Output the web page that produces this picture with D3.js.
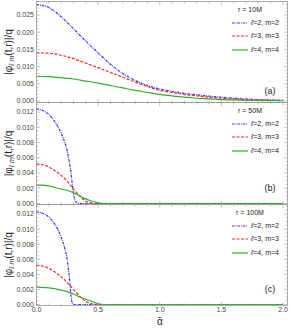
<!DOCTYPE html>
<html>
<head>
<meta charset="utf-8"/>
<script src="https://d3js.org/d3.v7.min.js"></script>
<style>
    body { margin: 0; background: #ffffff; }
    svg { display: block; font-family: "Liberation Sans", Arial, sans-serif; }
    .tick text { fill: #444444; font-size: 7px; }
</style>
</head>
<body>
<svg id="chart" width="291" height="329"></svg>
<script>

// panel (a), r = 10M
var alphaA = [0,0.1,0.2,0.3,0.4,0.5,0.6,0.7,0.8,0.9,1.0,1.1,1.2,1.3,1.4,1.5,1.6,1.7,1.8,1.9,2.0];
var blueA  = [0.0280,0.0272,0.0245,0.0210,0.0174,0.0140,0.0107,0.0080,0.0060,0.0045,0.0035,0.0028,0.0022,0.0018,0.0014,0.0011,0.0008,0.0006,0.0004,0.0003,0.0002];
var redA   = [0.0140,0.0139,0.0133,0.0123,0.0110,0.0097,0.0083,0.0069,0.0055,0.0042,0.0031,0.0025,0.0019,0.0015,0.0011,0.0008,0.0006,0.0004,0.0003,0.0002,0.0001];
var greenA = [0.0072,0.0071,0.0068,0.0064,0.0058,0.0052,0.0045,0.0038,0.0031,0.0025,0.0019,0.0015,0.0011,0.0008,0.0006,0.0004,0.0003,0.0002,0.00015,0.0001,0.00007];

// panel (b), r = 50M
var alphaBlueB = [0,0.05,0.1,0.15,0.2,0.25,0.28,0.3,0.32,0.35,2.0];
var blueB      = [0.0124,0.0122,0.0117,0.0107,0.0092,0.0068,0.0040,0.0013,0.0002,0,0];
var alphaRedB  = [0,0.05,0.1,0.15,0.2,0.25,0.3,0.35,0.4,0.45,0.5,2.0];
var redB       = [0.0052,0.0051,0.0048,0.0043,0.0037,0.0029,0.0019,0.0010,0.0003,0.00005,0,0];
var alphaGreenB = [0,0.05,0.1,0.15,0.2,0.25,0.3,0.35,0.4,0.45,0.5,0.55,2.0];
var greenB      = [0.0024,0.0024,0.0023,0.0021,0.0019,0.0017,0.0014,0.0010,0.0006,0.0003,0.0001,0,0];

// panel (c), r = 100M
var alphaBlueC = [0,0.05,0.1,0.15,0.2,0.23,0.25,0.27,0.28,0.29,0.3,2.0];
var blueC      = [0.0123,0.0121,0.0116,0.0106,0.0089,0.0074,0.0058,0.0030,0.0012,0.0002,0,0];
var alphaRedC  = [0,0.05,0.1,0.15,0.2,0.25,0.3,0.35,0.4,0.45,0.5,2.0];
var redC       = [0.0052,0.0051,0.0048,0.0043,0.0037,0.0029,0.0020,0.0011,0.0004,0.0001,0,0];
var alphaGreenC = [0,0.1,0.2,0.25,0.3,0.35,0.4,0.45,0.5,0.55,2.0];
var greenC      = [0.0023,0.0022,0.0019,0.0017,0.0014,0.0010,0.0007,0.0004,0.0001,0,0];

var xTicks = [0,0.5,1.0,1.5,2.0];
var yTicksA = [0,0.005,0.010,0.015,0.020,0.025];
var yTicksBC = [0,0.002,0.004,0.006,0.008,0.010,0.012];
var panelTitles = ["r = 10M","r = 50M","r = 100M"];
var panelTags = ["(a)","(b)","(c)"];
var seriesNames = ["\u2113=2, m=2","\u2113=3, m=3","\u2113=4, m=4"];

var svg = d3.select("#chart");
var left = 36.5, right = 287.5;
var x = d3.scaleLinear().domain([0,2]).range([36.5,283]);

var styles = [
    {color:"#2b2bff", dash:"2.5,1,0.8,1"},
    {color:"#ff2b2b", dash:"3,1.5"},
    {color:"#2fb02f", dash:null}
];

var panels = [
    {top:1.5, bottom:102.5, y0:[0,0.025], yr:[101,15], ticks:yTicksA, minor:0.001, tagY:91,
     series:[[alphaA,blueA],[alphaA,redA],[alphaA,greenA]]},
    {top:102.5, bottom:204.5, y0:[0,0.012], yr:[203.5,112], ticks:yTicksBC, minor:0.0005, tagY:188,
     series:[[alphaBlueB,blueB],[alphaRedB,redB],[alphaGreenB,greenB]]},
    {top:204.5, bottom:305.5, y0:[0,0.012], yr:[304.5,214], ticks:yTicksBC, minor:0.0005, tagY:289,
     series:[[alphaBlueC,blueC],[alphaRedC,redC],[alphaGreenC,greenC]]}
];

panels.forEach(function(p, i) {
    var y = d3.scaleLinear().domain(p.y0).range(p.yr);
    var g = svg.append("g");

    // curves
    p.series.forEach(function(s, k) {
        var pts = s[0].map(function(a, j) { return [a, s[1][j]]; });
        var line = d3.line().x(function(d){ return x(d[0]); }).y(function(d){ return y(d[1]); }).curve(d3.curveMonotoneX);
        g.append("path").attr("d", line(pts)).attr("fill","none")
            .attr("stroke", styles[k].color).attr("stroke-width", 1.2)
            .attr("stroke-dasharray", styles[k].dash);
    });

    // frame
    g.append("rect").attr("x",left).attr("y",p.top).attr("width",right-left).attr("height",p.bottom-p.top)
        .attr("fill","none").attr("stroke","#999999").attr("stroke-width",0.8);

    // y ticks, left labelled
    var yMinor = d3.range(0, p.y0[1]*1.2 + 1e-9, p.minor).filter(function(v){ return y(v) >= p.top; });
    var yMaj = p.ticks;
    yMinor.forEach(function(v) {
        var major = yMaj.some(function(m){ return Math.abs(m-v) < 1e-9; });
        var len = major ? 3.5 : 2;
        g.append("line").attr("x1",left).attr("x2",left+len).attr("y1",y(v)).attr("y2",y(v)).attr("stroke","#999999").attr("stroke-width",0.6);
        g.append("line").attr("x1",right).attr("x2",right-len).attr("y1",y(v)).attr("y2",y(v)).attr("stroke","#999999").attr("stroke-width",0.6);
    });
    yMaj.forEach(function(v) {
        g.append("text").attr("x",left-2.5).attr("y",y(v)).attr("dy","0.35em").attr("text-anchor","end")
            .attr("font-size",7).attr("fill","#444444").text(v.toFixed(3));
    });

    // x ticks on bottom and top
    d3.range(0, 2.001, 0.1).forEach(function(v) {
        var major = xTicks.some(function(m){ return Math.abs(m-v) < 1e-9; });
        var len = major ? 3.5 : 2;
        g.append("line").attr("x1",x(v)).attr("x2",x(v)).attr("y1",p.bottom).attr("y2",p.bottom-len).attr("stroke","#999999").attr("stroke-width",0.6);
        g.append("line").attr("x1",x(v)).attr("x2",x(v)).attr("y1",p.top).attr("y2",p.top+len).attr("stroke","#999999").attr("stroke-width",0.6);
    });

    // y label
    var yl = g.append("text").attr("transform","translate(12," + ((p.top+p.bottom)/2) + ") rotate(-90)")
        .attr("text-anchor","middle").attr("font-size",10).attr("fill","#222222");
    yl.append("tspan").text("|\u03c6");
    yl.append("tspan").attr("font-size",7).attr("dy",2).attr("font-style","italic").text("\u2113 m");
    yl.append("tspan").attr("dy",-2).text("(t,r)|/q");

    // legend
    var lx = 232, tx = 251;
    g.append("text").attr("x",250).attr("y",p.top+8.5).attr("dy","0.35em").attr("text-anchor","middle")
        .attr("font-size",7).attr("fill","#222222").text(panelTitles[i]);
    [21.5,34.5,48.5].forEach(function(off, k) {
        var yy = p.top + off;
        g.append("line").attr("x1",lx).attr("x2",lx+16).attr("y1",yy).attr("y2",yy)
            .attr("stroke",styles[k].color).attr("stroke-width",1.2).attr("stroke-dasharray",styles[k].dash);
        var t = g.append("text").attr("x",tx).attr("y",yy).attr("dy","0.35em").attr("font-size",7).attr("fill","#222222");
        t.append("tspan").attr("font-style","italic").text("\u2113");
        t.append("tspan").text(seriesNames[k].slice(1));
    });

    // panel tag
    g.append("text").attr("x",270).attr("y",p.tagY).attr("dy","0.35em").attr("text-anchor","middle")
        .attr("font-size",9).attr("fill","#222222").text(panelTags[i]);

    if (i == 2) {
        xTicks.forEach(function(v) {
            g.append("text").attr("x",x(v)).attr("y",p.bottom+4.5).attr("dy","0.35em").attr("text-anchor","middle")
                .attr("font-size",7).attr("fill","#444444").text(v.toFixed(1));
        });
        g.append("text").attr("x",160).attr("y",321).attr("dy","0.35em").attr("text-anchor","middle")
            .attr("font-size",10).attr("fill","#222222").text("\u03b1\u0304");
    }
});
</script>
</body>
</html>
